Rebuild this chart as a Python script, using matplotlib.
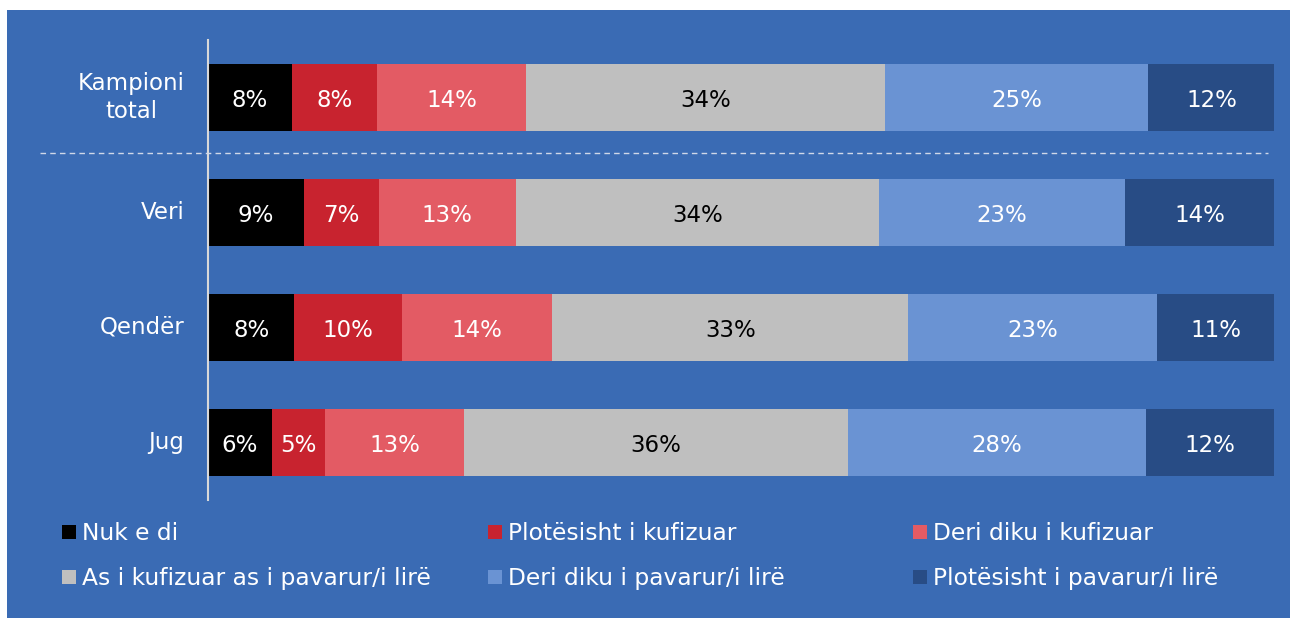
import matplotlib
matplotlib.use("Agg")
import matplotlib.pyplot as plt
from matplotlib.patches import Rectangle
from matplotlib.lines import Line2D

plt.rcParams['font.family'] = ['DejaVu Sans']

categories = ["Kampioni\ntotal", "Veri", "Qendër", "Jug"]
series_names = ["Nuk e di", "Plotësisht i kufizuar", "Deri diku i kufizuar",
                "As i kufizuar as i pavarur/i lirë", "Deri diku i pavarur/i lirë",
                "Plotësisht i pavarur/i lirë"]
values = [
    [7.9, 8.0, 13.9, 33.7, 24.7, 11.9],
    [9.0, 7.0, 12.9, 34.0, 23.1, 14.0],
    [8.1, 10.1, 14.1, 33.4, 23.3, 11.1],
    [6.0, 5.0, 13.0, 36.0, 28.0, 12.0],
]
labels = [
    ["8%", "8%", "14%", "34%", "25%", "12%"],
    ["9%", "7%", "13%", "34%", "23%", "14%"],
    ["8%", "10%", "14%", "33%", "23%", "11%"],
    ["6%", "5%", "13%", "36%", "28%", "12%"],
]
colors = ["#000000", "#C8232F", "#E35B64", "#BFBFBF", "#6A93D3", "#284C85"]
label_colors = ["white", "white", "white", "black", "white", "white"]
BG = "#3A6BB4"

W, H = 1291, 618
fig = plt.figure(figsize=(W / 100, H / 100), dpi=100)
fig.patch.set_facecolor("white")
fig.add_artist(Rectangle((7 / W, 0), (W - 8) / W, (H - 10) / H,
                         transform=fig.transFigure, facecolor=BG,
                         edgecolor="none", zorder=0))

def fx(px):
    return px / W

def fy(py):
    return 1 - py / H

FS = 16.5

ax_left, ax_right, ax_top, ax_bot = 208, 1274, 40, 500
ax = fig.add_axes([fx(ax_left), fy(ax_bot), fx(ax_right - ax_left), (ax_bot - ax_top) / H])
ax.set_facecolor("none")
ax.set_xlim(0, 100)
ax.set_ylim(3.5, -0.5)

for i, cat in enumerate(categories):
    left = 0
    for j in range(len(series_names)):
        v = values[i][j]
        ax.barh(i, v, left=left, height=0.585, color=colors[j], edgecolor="none", zorder=2)
        ax.text(left + v / 2, i + 0.025, labels[i][j], ha="center", va="center",
                color=label_colors[j], fontsize=FS, zorder=3)
        left += v
    ax.text(-2.2, i, cat, ha="right", va="center", multialignment="center",
            color="white", fontsize=FS, linespacing=1.25, clip_on=False)

ax.set_yticks([])
ax.set_xticks([])
for s in ["top", "right", "bottom"]:
    ax.spines[s].set_visible(False)
ax.spines["left"].set_color("#D9D9D9")
ax.spines["left"].set_linewidth(1.5)
ax.spines["left"].set_zorder(4)

# dashed separator
fig.add_artist(Line2D([fx(40), fx(1268)], [fy(153), fy(153)], transform=fig.transFigure,
                      color="#D0D8E8", linewidth=1, linestyle=(0, (4, 3))))

# legend
col_x = [62, 488, 913]
row_y = [532, 577]
for k, name in enumerate(series_names):
    c, r = k % 3, k // 3
    x0, y0 = col_x[c], row_y[r]
    fig.add_artist(Rectangle((fx(x0), fy(y0 + 7)), 14 / W, 14 / H, transform=fig.transFigure,
                             facecolor=colors[k], edgecolor="none"))
    fig.text(fx(x0 + 20), fy(y0 + 1), name, color="white", fontsize=16.8, va="center", ha="left")

fig.savefig("out.png", dpi=100, facecolor=fig.get_facecolor())
